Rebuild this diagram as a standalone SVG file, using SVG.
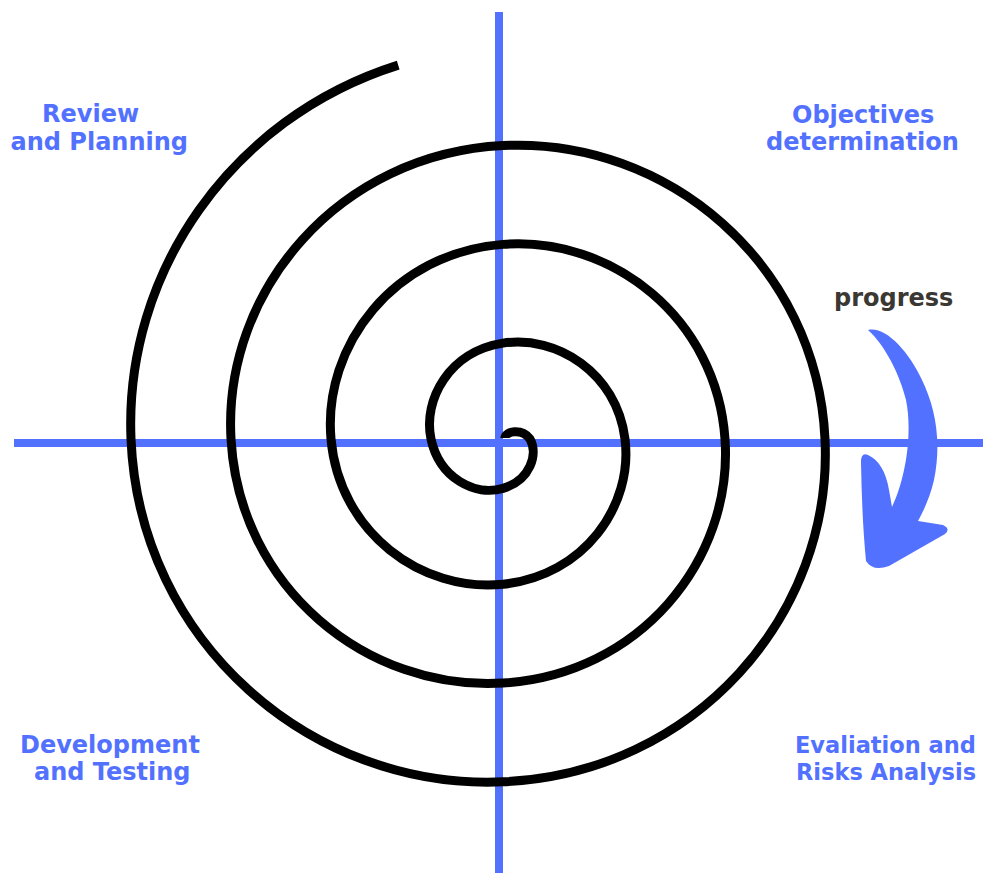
<svg xmlns="http://www.w3.org/2000/svg" width="983" height="873" viewBox="0 0 983 873">
<style>
.axis{stroke:#5271ff;stroke-width:8;fill:none}
.spiral{stroke:#000;stroke-width:9;fill:none;stroke-linecap:butt;stroke-linejoin:round}
.lbl{font-family:"DejaVu Sans","Liberation Sans",sans-serif;font-weight:bold;font-size:24px;fill:#5271ff}
.lbl-sm{font-family:"DejaVu Sans","Liberation Sans",sans-serif;font-weight:bold;font-size:22.5px;fill:#5271ff}
.prog{font-family:"DejaVu Sans","Liberation Sans",sans-serif;font-weight:bold;font-size:24px;fill:#3b3733}
</style>
<rect width="983" height="873" fill="#ffffff"/>
<g id="axes">
<line class="axis" x1="499" y1="12" x2="499" y2="873"/>
<line class="axis" x1="14" y1="443" x2="983" y2="443"/>
</g>
<g id="spiral" transform="translate(503,439) scale(1,0.988)">
<path class="spiral" vector-effect="non-scaling-stroke" d="M 2 -1 C 2 -8 19 -11 27 0
C 35.34 14.91 27.6 41.66 0 50
C -27.6 58.34 -63.66 39.77 -72 0
C -80.34 -39.77 -53.57 -88.66 0 -97
C 53.57 -105.34 113.66 -67.38 122 0
C 130.34 67.38 81.19 138.66 0 147
C -81.19 155.34 -163.66 95 -172 0
C -180.34 -95 -108.8 -188.66 0 -197
C 108.8 -205.34 213.66 -122.61 222 0
C 230.34 122.61 136.42 238.66 0 247
C -136.42 255.34 -263.66 150.23 -272 0
C -280.34 -150.23 -164.03 -288.66 0 -297
C 164.03 -305.34 313.66 -177.84 322 0
C 330.34 177.84 191.65 338.66 0 347
C -191.65 355.34 -363.66 205.46 -372 0
C -378.9 -167.16 -273 -324.65 -104.8 -378.4"/>
</g>
<g id="progress-arrow">
<path fill="#5271ff" d="M 868 330 C 885 326 908 350 922 380 C 935 407 942 440 934 480 C 930 497 924 510 918 521 L 943 525 Q 951 529 945 534 L 889 566 Q 873 572 866 561 Q 862 520 861 462 Q 861 452 868 455 C 879 460 886 472 889 490 L 892 507 C 905 480 913 435 906 400 C 900 375 885 345 868 330 Z"/>
</g>
<g id="label-review">
<text class="lbl" x="42" y="122">Review</text>
<text class="lbl" x="10.5" y="150">and Planning</text>
</g>
<g id="label-objectives">
<text class="lbl" x="792" y="123">Objectives</text>
<text class="lbl" x="766" y="150">determination</text>
</g>
<g id="label-development">
<text class="lbl" x="20" y="753">Development</text>
<text class="lbl" x="34" y="780">and Testing</text>
</g>
<g id="label-evaluation">
<text class="lbl-sm" x="795" y="753">Evaliation and</text>
<text class="lbl-sm" x="796" y="780">Risks Analysis</text>
</g>
<g id="label-progress">
<text class="prog" x="834" y="306">progress</text>
</g>
</svg>
